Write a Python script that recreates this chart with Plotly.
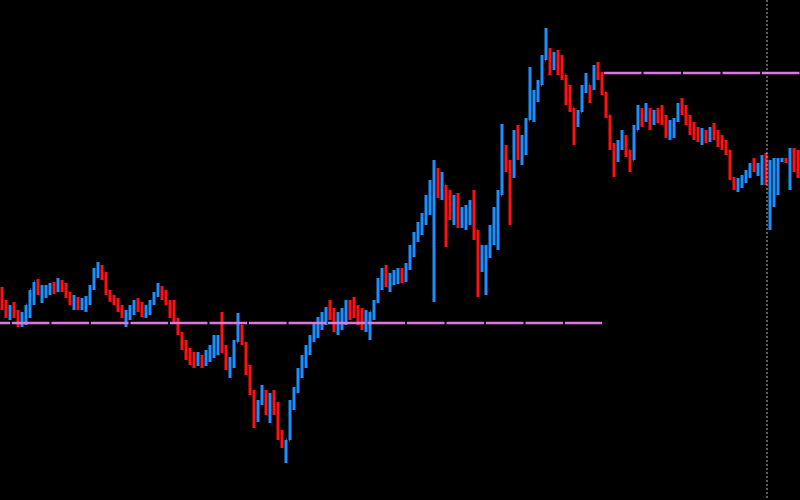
import plotly.graph_objects as go

# Price path (points; one bar every 4 px of width)
high = [213,200,195,198,190,188,190,200,215,221,
        215,215,217,218,222,220,217,208,205,203,
        202,204,215,232,238,235,228,210,205,202,
        195,190,195,200,202,198,195,200,208,217,
        214,210,200,200,182,168,160,152,148,148,
        145,150,155,165,165,188,155,143,160,187,
        175,155,135,110,100,115,110,107,110,98,
        70,60,100,113,132,145,155,165,177,183,
        188,193,200,192,188,192,200,200,203,195,
        192,190,183,200,222,232,235,227,230,232,
        232,237,255,268,278,287,305,320,340,332,
        328,315,310,305,307,293,295,300,310,270,
        255,255,275,293,310,376,355,340,370,375,
        365,382,433,410,420,445,472,452,448,450,
        445,425,415,390,390,415,427,415,435,438,
        428,407,380,357,360,370,365,350,375,395,
        392,397,392,390,392,395,385,380,382,397,
        402,395,385,378,373,372,370,373,377,370,
        365,360,350,323,322,325,330,337,342,337,
        345,347,340,342,342,342,342,352,352,350]
low = [190,182,180,182,173,173,175,182,195,205,
       197,202,205,206,208,208,202,195,190,190,
       190,188,195,210,222,220,205,198,195,188,
       182,173,180,185,188,183,182,185,195,203,
       200,195,182,178,165,150,140,135,132,134,
       132,134,138,142,145,147,130,122,132,163,
       155,125,105,72,78,95,85,77,85,60,
       52,37,62,90,107,122,132,145,158,162,
       170,175,180,168,165,170,175,180,182,175,
       170,168,160,180,197,210,213,208,215,216,
       217,218,230,243,258,265,275,285,198,302,
       300,253,280,275,272,272,270,275,260,203,
       228,205,242,255,250,330,328,275,322,340,
       335,345,382,378,398,415,445,425,430,425,
       420,395,388,355,373,395,407,397,410,420,
       405,382,350,323,338,350,343,328,340,372,
       373,378,370,375,377,375,362,360,362,378,
       385,375,365,360,358,355,357,358,360,353,
       350,345,320,310,308,312,317,322,328,324,
       315,315,270,293,305,338,337,310,328,322]
close = [195,188,192,185,178,184,195,210,218,208,
         210,212,215,210,218,212,205,198,200,194,
         198,202,213,230,232,224,208,202,200,192,
         185,188,192,197,192,190,194,198,206,212,
         208,198,188,182,167,155,145,142,138,142,
         140,145,150,158,160,152,135,138,158,175,
         158,130,108,95,98,105,95,100,92,65,
         55,60,95,108,128,142,152,162,175,178,
         185,190,188,175,182,190,195,194,190,185,
         178,182,188,198,218,225,220,222,225,228,
         225,235,252,265,272,282,300,305,325,310,
         315,300,290,295,285,288,290,295,270,240,
         245,250,270,280,305,350,335,330,360,350,
         360,380,400,405,415,440,450,440,442,435,
         425,405,392,380,388,410,415,412,430,425,
         408,385,355,345,355,360,350,340,370,385,
         382,390,382,385,382,380,370,375,380,392,
         390,380,370,368,365,367,362,370,365,360,
         355,350,322,315,317,320,325,335,332,335,
         340,335,338,340,340,341,340,345,340,335]
first_open = 210

# Horizontal levels and marker
level_low = 177
level_low_end = 602
level_high = 427
level_high_start = 604
marker_x = 767

bar_step = 4
x = [i * bar_step + bar_step / 2 for i in range(len(close))]
opens = [first_open] + close[:-1]
hi = [max(h, o, c) for h, o, c in zip(high, opens, close)]
lo = [min(l, o, c) for l, o, c in zip(low, opens, close)]

fig = go.Figure()
fig.add_trace(go.Ohlc(
    x=x, open=opens, high=hi, low=lo, close=close,
    increasing=dict(line=dict(color="#1e8fff", width=3)),
    decreasing=dict(line=dict(color="#ff1010", width=3)),
    tickwidth=0.15, showlegend=False, hoverinfo="skip",
))
fig.add_trace(go.Scatter(
    x=[-27.5, level_low_end], y=[level_low, level_low], mode="lines",
    line=dict(color="#dd77dd", width=2.6, dash="37.5px,2px"),
    showlegend=False, hoverinfo="skip",
))
fig.add_trace(go.Scatter(
    x=[level_high_start, 820], y=[level_high, level_high], mode="lines",
    line=dict(color="#dd77dd", width=2.6, dash="37.5px,2px"),
    showlegend=False, hoverinfo="skip",
))
fig.add_trace(go.Scatter(
    x=[marker_x, marker_x], y=[-10, 510], mode="lines",
    line=dict(color="#bbbbbb", width=1, dash="2px,2px"),
    showlegend=False, hoverinfo="skip",
))

fig.update_layout(
    width=800, height=500,
    margin=dict(l=0, r=0, t=0, b=0),
    paper_bgcolor="#000000", plot_bgcolor="#000000",
    xaxis=dict(range=[0, 800], visible=False, showgrid=False, zeroline=False,
               rangeslider=dict(visible=False), fixedrange=True),
    yaxis=dict(range=[0, 500], visible=False, showgrid=False, zeroline=False,
               fixedrange=True),
)
fig.write_html("out.html", config={"displayModeBar": False},
               post_script="document.body.style.margin='0';document.body.style.background='#000';")
